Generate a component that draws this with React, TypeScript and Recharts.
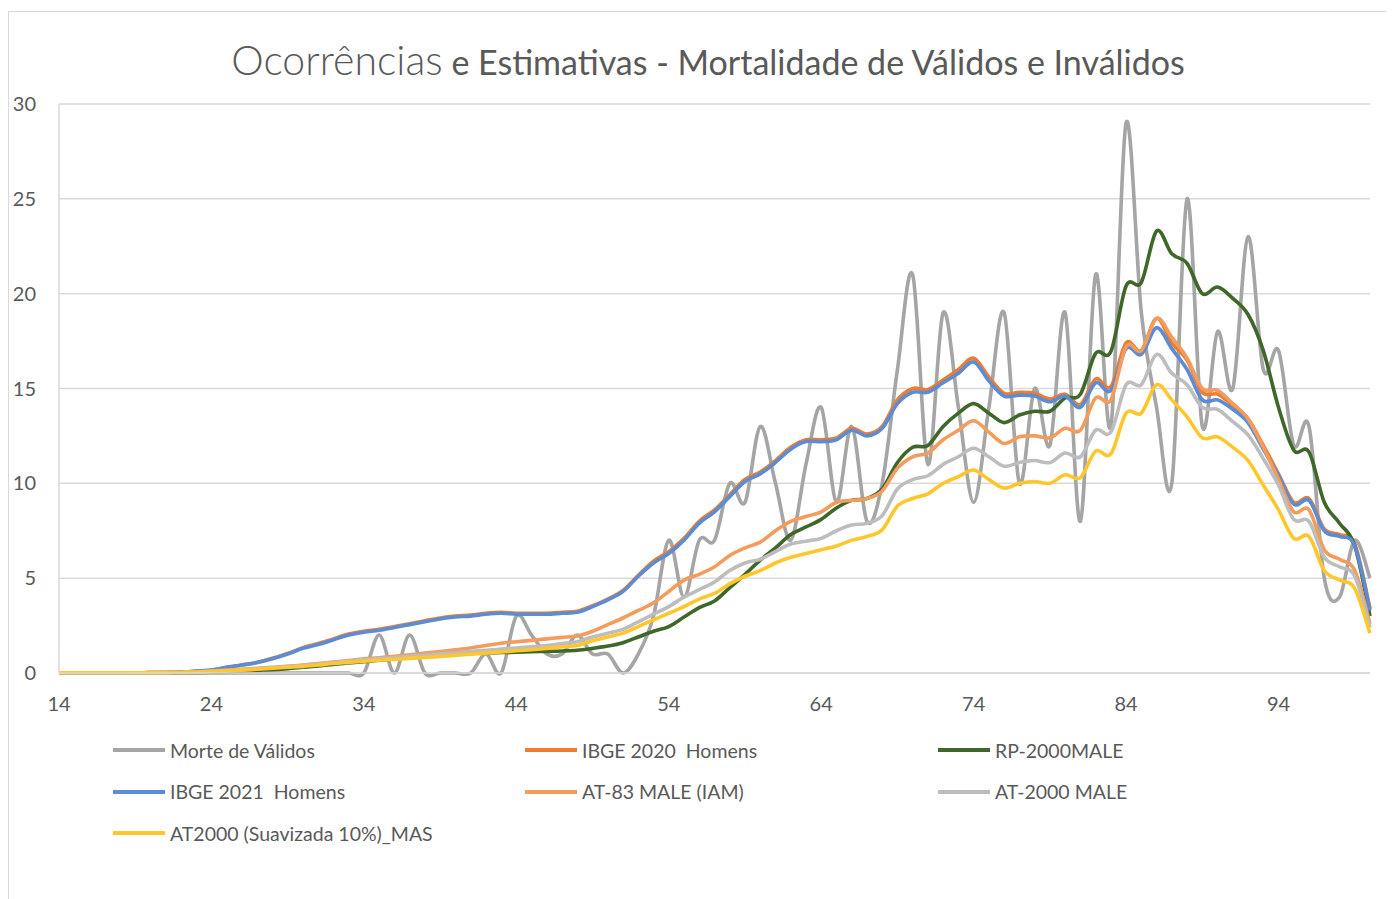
import { CartesianGrid, Line, LineChart, XAxis, YAxis } from "recharts";

const AGES = Array.from({ length: 87 }, (_, i) => 14 + i);

// rows of 10 ages: 14-23, 24-33, ... , 94-100
const MORTE_VALIDOS = [
  0, 0, 0, 0, 0, 0, 0, 0, 0, 0,
  0, 0, 0, 0, 0, 0, 0, 0, 0, 0,
  0, 2, 0, 2, 0, 0, 0, 0, 1, 0,
  3, 2, 1, 1, 2, 1, 1, 0, 1, 3,
  7, 4, 7, 7, 10, 9, 13, 10, 7, 11,
  14, 9, 13, 8, 10, 16, 21, 11, 19, 14,
  9, 14, 19, 10, 15, 12, 19, 8, 21, 13,
  29, 19, 14, 10, 25, 13, 18, 15, 23, 16,
  17, 12, 13, 5, 4, 7, 5,
];

const IBGE_2020 = [
  0.01, 0.01, 0.01, 0.01, 0.01, 0.01, 0.02, 0.03, 0.05, 0.1,
  0.15, 0.3, 0.42, 0.56, 0.78, 1.03, 1.33, 1.55, 1.8, 2.05,
  2.2, 2.3, 2.45, 2.6, 2.75, 2.9, 3.0, 3.05, 3.15, 3.2,
  3.15, 3.15, 3.15, 3.2, 3.25, 3.55, 3.9, 4.35, 5.15, 5.9,
  6.4, 7.1, 8.0, 8.6, 9.4, 10.2, 10.6, 11.2, 11.9, 12.3,
  12.3, 12.4, 12.9, 12.6, 13.0, 14.4, 15.0, 14.95, 15.45, 16.0,
  16.6, 15.6, 14.75, 14.8, 14.75, 14.45, 14.7, 14.15, 15.5, 15.1,
  17.4, 17.0, 18.7, 17.4, 16.5, 14.8, 14.7, 14.1, 13.4, 12.0,
  10.5, 9.0, 9.2, 7.6, 7.3, 6.8, 3.4,
];

const RP_2000 = [
  0.005, 0.005, 0.005, 0.005, 0.005, 0.01, 0.01, 0.01, 0.02, 0.03,
  0.04, 0.07, 0.1, 0.14, 0.18, 0.23, 0.3, 0.37, 0.45, 0.53,
  0.6, 0.67, 0.74, 0.8, 0.88, 0.95, 1.0, 1.03, 1.06, 1.08,
  1.1, 1.12, 1.14, 1.16, 1.2, 1.3, 1.42, 1.6, 1.9, 2.2,
  2.45, 2.95, 3.45, 3.8, 4.5, 5.2, 5.95, 6.6, 7.3, 7.7,
  8.1, 8.7, 9.1, 9.2, 9.7, 11.1, 11.9, 12.0, 13.0, 13.7,
  14.2, 13.7, 13.2, 13.6, 13.8, 13.8, 14.5, 14.7, 16.85, 16.95,
  20.4, 20.6, 23.3, 22.1, 21.6, 20.0, 20.35, 19.75, 18.9, 17.0,
  14.0, 11.75, 11.65, 9.0, 7.9, 6.7, 3.0,
];

const IBGE_2021 = [
  0.01, 0.01, 0.01, 0.01, 0.01, 0.01, 0.02, 0.03, 0.05, 0.1,
  0.15, 0.3, 0.42, 0.55, 0.75, 1.0, 1.3, 1.5, 1.75, 2.0,
  2.15, 2.25, 2.4, 2.55, 2.7, 2.85, 2.95, 3.0, 3.1, 3.15,
  3.1, 3.1, 3.1, 3.15, 3.2, 3.5, 3.85, 4.3, 5.1, 5.8,
  6.3, 7.0, 7.9, 8.5, 9.3, 10.1, 10.5, 11.1, 11.8, 12.2,
  12.2, 12.3, 12.8, 12.5, 12.9, 14.2, 14.8, 14.8, 15.3, 15.8,
  16.4, 15.4, 14.6, 14.65, 14.6, 14.3, 14.6, 14.0, 15.3, 14.9,
  17.1, 16.8, 18.2, 17.1, 16.0, 14.4, 14.4, 13.9, 13.2, 11.8,
  10.4, 8.9, 9.1, 7.5, 7.2, 6.7, 3.3,
];

const AT_83 = [
  0.01, 0.01, 0.01, 0.01, 0.01, 0.01, 0.02, 0.02, 0.03, 0.05,
  0.1, 0.15, 0.2, 0.25, 0.3, 0.35, 0.42, 0.5, 0.58, 0.66,
  0.75, 0.8, 0.88, 0.96, 1.05, 1.13, 1.22, 1.32, 1.45, 1.57,
  1.65, 1.72, 1.8, 1.88, 1.95, 2.2, 2.55, 2.9, 3.3, 3.7,
  4.3, 4.9, 5.2, 5.6, 6.2, 6.6, 6.9, 7.5, 8.0, 8.25,
  8.5, 9.0, 9.1, 9.2, 9.6, 10.8, 11.4, 11.6, 12.3, 12.8,
  13.3, 12.7, 12.1, 12.45, 12.5, 12.4, 12.9, 12.8, 14.5, 14.4,
  17.2, 17.0, 18.7, 17.7, 16.6, 15.0, 14.9, 14.2, 13.4, 11.9,
  10.2, 8.5, 8.6, 6.5, 6.0, 5.4, 2.6,
];

const AT_2000 = [
  0.01, 0.01, 0.01, 0.01, 0.01, 0.01, 0.02, 0.02, 0.03, 0.05,
  0.1, 0.13, 0.18, 0.22, 0.28, 0.34, 0.4, 0.47, 0.55, 0.62,
  0.7, 0.76, 0.82, 0.88, 0.95, 1.01, 1.07, 1.13, 1.2, 1.26,
  1.32, 1.38, 1.45, 1.55, 1.65, 1.9, 2.1, 2.3, 2.7, 3.1,
  3.5, 4.0, 4.4, 4.8, 5.4, 5.8, 6.0, 6.4, 6.8, 6.95,
  7.1, 7.5, 7.8, 7.9, 8.3, 9.7, 10.2, 10.4, 11.0, 11.4,
  11.85, 11.4, 10.9, 11.1, 11.2, 11.1, 11.6, 11.4, 12.8, 12.7,
  15.2, 15.2, 16.8, 15.8, 15.2, 14.0, 13.9, 13.25, 12.55, 11.3,
  9.9, 8.1, 8.0, 6.1, 5.6, 5.1, 2.4,
];

const AT_2000_SUAV = [
  0.01, 0.01, 0.01, 0.01, 0.01, 0.01, 0.02, 0.02, 0.03, 0.05,
  0.08, 0.11, 0.15, 0.2, 0.25, 0.3, 0.35, 0.42, 0.5, 0.56,
  0.62, 0.67, 0.72, 0.77, 0.82, 0.87, 0.93, 0.99, 1.05, 1.11,
  1.17, 1.23, 1.3, 1.38, 1.45, 1.7, 1.9, 2.1, 2.45, 2.8,
  3.15, 3.5, 3.9, 4.2, 4.7, 5.1, 5.4, 5.8, 6.1, 6.3,
  6.5, 6.7, 7.0, 7.2, 7.55, 8.8, 9.2, 9.45, 10.0, 10.35,
  10.7, 10.2, 9.75, 10.0, 10.1, 10.0, 10.45, 10.3, 11.7, 11.55,
  13.7, 13.7, 15.2, 14.4, 13.5, 12.4, 12.45, 11.9, 11.2, 9.9,
  8.6, 7.1, 7.2, 5.4, 4.9, 4.45, 2.1,
];

const X_TICKS = [14, 24, 34, 44, 54, 64, 74, 84, 94];
const Y_TICKS = [0, 5, 10, 15, 20, 25, 30];

const SERIES = [
  { key: "morte", name: "Morte de Válidos", color: "#a5a5a5" },
  { key: "ibge2020", name: "IBGE 2020  Homens", color: "#ed7d31" },
  { key: "rp2000", name: "RP-2000MALE", color: "#40672a" },
  { key: "ibge2021", name: "IBGE 2021  Homens", color: "#5b8cd6" },
  { key: "at83", name: "AT-83 MALE (IAM)", color: "#f39c5c" },
  { key: "at2000", name: "AT-2000 MALE", color: "#bdbdbd" },
  { key: "at2000suav", name: "AT2000 (Suavizada 10%)_MAS", color: "#ffc72c" },
];

const data = AGES.map((age, i) => ({
  age,
  morte: MORTE_VALIDOS[i],
  ibge2020: IBGE_2020[i],
  rp2000: RP_2000[i],
  ibge2021: IBGE_2021[i],
  at83: AT_83[i],
  at2000: AT_2000[i],
  at2000suav: AT_2000_SUAV[i],
}));

// Excel-like smoothing (Catmull-Rom through every point)
function smoothCurve(context: any) {
  let pts: number[][] = [];
  return {
    areaStart() {},
    areaEnd() {},
    lineStart() {
      pts = [];
    },
    point(x: number, y: number) {
      pts.push([+x, +y]);
    },
    lineEnd() {
      const n = pts.length;
      if (!n) return;
      context.moveTo(pts[0][0], pts[0][1]);
      for (let i = 0; i < n - 1; i++) {
        const p0 = pts[Math.max(i - 1, 0)];
        const p1 = pts[i];
        const p2 = pts[i + 1];
        const p3 = pts[Math.min(i + 2, n - 1)];
        context.bezierCurveTo(
          p1[0] + (p2[0] - p0[0]) / 6,
          p1[1] + (p2[1] - p0[1]) / 6,
          p2[0] - (p3[0] - p1[0]) / 6,
          p2[1] - (p3[1] - p1[1]) / 6,
          p2[0],
          p2[1]
        );
      }
    },
  };
}

const FONT = "Lato, 'Open Sans', sans-serif";
const TEXT = "#595959";

function LegendBlock() {
  const cols = [105, 517, 930];
  return (
    <div style={{ position: "absolute", left: 0, top: 730, width: 1386 }}>
      {SERIES.map((s, i) => (
        <div
          key={s.key}
          style={{
            position: "absolute",
            left: cols[i % 3],
            top: Math.floor(i / 3) * 41.5,
            display: "flex",
            alignItems: "center",
            height: 24,
            whiteSpace: "pre",
          }}
        >
          <span style={{ width: 52, height: 4, background: s.color, marginRight: 5 }} />
          <span style={{ fontSize: 19.5, color: TEXT }}>{s.name}</span>
        </div>
      ))}
    </div>
  );
}

export default function App() {
  return (
    <div style={{ position: "relative", width: 1386, height: 891, fontFamily: FONT, overflow: "hidden" }}>
      <div
        style={{
          position: "absolute",
          left: 0,
          top: 3,
          width: 1400,
          height: 900,
          borderLeft: "1px solid #d9d9d9",
          borderTop: "1px solid #d9d9d9",
        }}
      />
      <div
        style={{
          position: "absolute",
          left: 0,
          top: 31,
          width: 1400,
          textAlign: "center",
          color: TEXT,
          whiteSpace: "nowrap",
          lineHeight: 1,
        }}
      >
        <span style={{ fontSize: 41, fontWeight: 300 }}>Ocorrências</span>
        <span style={{ fontSize: 34 }}> e Estimativas - Mortalidade de Válidos e Inválidos</span>
      </div>
      <LineChart
        width={1386}
        height={891}
        data={data}
        margin={{ top: 96, right: 24, bottom: 196, left: 0 }}
        style={{ position: "absolute", left: 0, top: 0 }}
      >
        <CartesianGrid vertical={false} stroke="#d9d9d9" strokeWidth={1.5} />
        <XAxis
          dataKey="age"
          type="number"
          domain={[14, 100]}
          ticks={X_TICKS}
          height={30}
          tickSize={0}
          tickMargin={24}
          axisLine={{ stroke: "#d9d9d9", strokeWidth: 1.5 }}
          tick={{ fill: TEXT, fontSize: 20, fontFamily: FONT }}
        />
        <YAxis
          domain={[0, 30]}
          ticks={Y_TICKS}
          width={51}
          tickSize={0}
          tickMargin={23}
          axisLine={{ stroke: "#d9d9d9", strokeWidth: 1.5 }}
          tick={{ fill: TEXT, fontSize: 20, fontFamily: FONT }}
        />
        {SERIES.map((s) => (
          <Line
            key={s.key}
            type={smoothCurve as any}
            dataKey={s.key}
            name={s.name}
            stroke={s.color}
            strokeWidth={3.6}
            dot={false}
            activeDot={false}
            isAnimationActive={false}
          />
        ))}
      </LineChart>
      <LegendBlock />
    </div>
  );
}
